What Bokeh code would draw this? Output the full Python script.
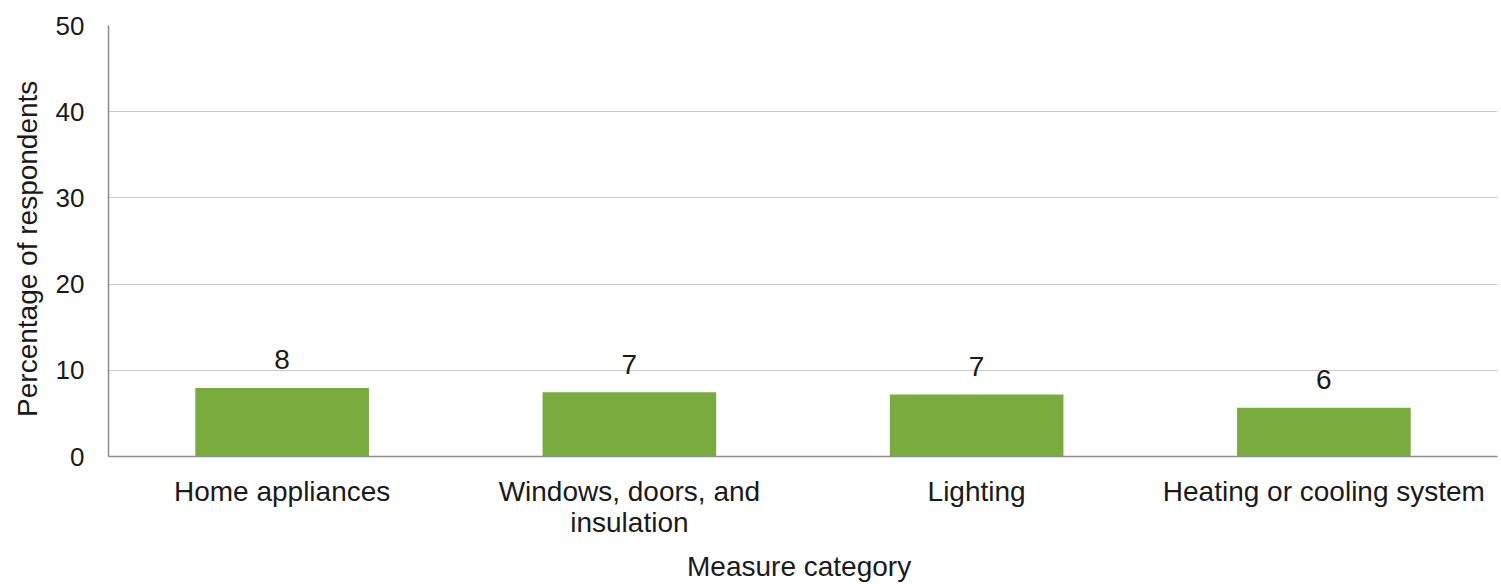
from bokeh.plotting import figure
from bokeh.models import ColumnDataSource, Range1d, FixedTicker
from bokeh.embed import file_html
from bokeh.resources import INLINE
from bokeh.core.properties import value

categories = ["Home appliances", "Windows, doors, and\ninsulation", "Lighting", "Heating or cooling system"]
values = [7.95, 7.45, 7.2, 5.65]
labels = ["8", "7", "7", "6"]
y_ticks = [0, 10, 20, 30, 40, 50]

FONT = "Liberation Sans"
TXT = "#1a1a1a"
FS = "28px"

src = ColumnDataSource(dict(cat=categories, val=values, lab=labels))

p = figure(x_range=categories, y_range=Range1d(0, 50), width=1501, height=584,
           output_backend="svg", toolbar_location=None,
           min_border_left=108, min_border_right=4, min_border_top=25, min_border_bottom=128)

p.vbar(x="cat", top="val", width=0.5, source=src, fill_color="#7aab3e", line_color=None)
p.text(x="cat", y="val", text="lab", source=src, text_align="center", text_baseline="middle",
       y_offset=-28, text_font=value(FONT), text_font_size=FS, text_color=TXT)

p.outline_line_color = None
p.xgrid.grid_line_color = None
p.ygrid.grid_line_color = "#c8c8c8"
p.ygrid.grid_line_width = 1
p.yaxis.ticker = FixedTicker(ticks=y_ticks)

for ax in (p.xaxis[0], p.yaxis[0]):
    ax.axis_line_color = "#8c8c8c"
    ax.axis_line_width = 1.5
    ax.major_tick_line_color = None
    ax.minor_tick_line_color = None
    ax.major_tick_out = 0
    ax.major_tick_in = 0
    ax.major_label_text_font = FONT
    ax.major_label_text_color = TXT
    ax.axis_label_text_font = FONT
    ax.axis_label_text_font_size = FS
    ax.axis_label_text_color = TXT
    ax.axis_label_text_font_style = "normal"

p.xaxis.major_label_text_font_size = FS
p.yaxis.major_label_text_font_size = "26px"
p.xaxis.major_label_text_line_height = 1.0
p.yaxis.axis_label = "Percentage  of  respondents"
p.yaxis.major_label_standoff = 24
p.yaxis.axis_label_standoff = 10
p.xaxis.axis_label = "Measure  category"
p.xaxis.major_label_standoff = 19
p.xaxis.axis_label_standoff = 10

open("out.html", "w").write(file_html(p, INLINE))
